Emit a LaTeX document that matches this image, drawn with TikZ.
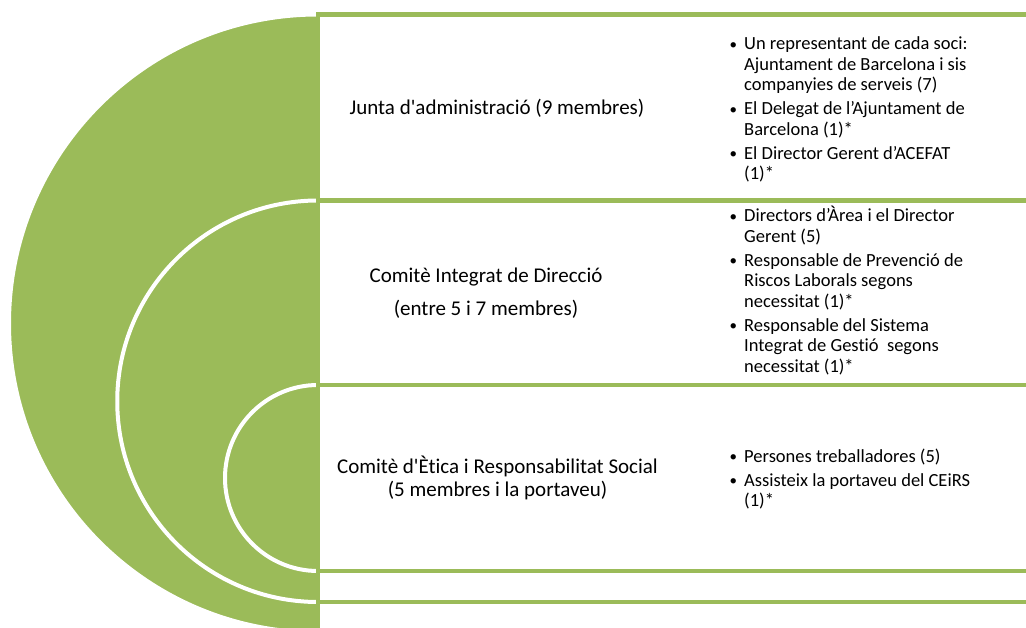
\documentclass[tikz,border=0pt]{standalone}
\usepackage{fontspec}
\setmainfont{Carlito}[Ligatures={NoCommon}]
\definecolor{grn}{HTML}{9BBB59}
\newcommand\bl{\hbox to 15pt{\hskip0.5pt{\fontsize{15}{15}\selectfont\raisebox{0.6pt}{\textbullet}}\hfil}}
\newcommand\ind{\hbox to 15pt{}}
\newcommand\bi[1]{\hbox{\bl #1}}
\newcommand\bc[1]{\hbox{\ind #1}}
\newcommand\igap{\vskip3.5pt}
\newcommand\blist[1]{\vtop{\baselineskip=20.5pt\lineskiplimit=-30pt #1}}
\newcommand\clab[2]{\vtop{\baselineskip=#1\lineskiplimit=-30pt\halign{\hfil##\hfil\cr#2\crcr}}}
\begin{document}
\begin{tikzpicture}[x=1pt,y=-1pt,
  disk/.style={fill=grn,draw=white,line width=4pt},
  panel/.style={fill=white,draw=grn,line width=4.5pt},
  lab/.style={font=\fontsize{21}{25}\selectfont,inner sep=0pt,anchor=base},
  items/.style={font=\fontsize{18.5}{20.5}\selectfont,inner sep=0pt,anchor=base west}]
\useasboundingbox (0,0) rectangle (1026,628);
\begin{scope}
\clip (0,0) rectangle (1026,628);
\fill[white] (0,0) rectangle (1026,628);
% half disks (right halves hidden by panels)
\filldraw[disk] (318,323.5) circle[radius=309];
\filldraw[disk] (318,401.25) circle[radius=200.75];
\filldraw[disk] (318,478) circle[radius=93];
% panels
\draw[panel] (318,14.5) rectangle (1040,632.5);
\draw[panel] (318,200.5) rectangle (1040,602);
\draw[panel] (318,385) rectangle (1040,571);
\end{scope}
% labels
\node[lab] (junta) at (497,115) {Junta d\textquotesingle administració (9 membres)};
\node[lab] (cid) at (486,283) {\clab{33pt}{Comitè Integrat de Direcció\cr(entre 5 i 7 membres)}};
\node[lab] (ceirs) at (497.5,473) {\clab{23pt}{Comitè d\textquotesingle Ètica i Responsabilitat Social\cr(5 membres i la portaveu)}};
% bullet lists
\node[items] (b1) at (729,50) {\blist{\bi{Un representant de cada soci:}\bc{Ajuntament de Barcelona i sis}\bc{companyies de serveis (7)}\igap
\bi{El Delegat de l’Ajuntament de}\bc{Barcelona (1)*}\igap
\bi{El Director Gerent d’ACEFAT}\bc{(1)*}}};
\node[items] (b2) at (729,222) {\blist{\bi{Directors d’Àrea i el Director}\bc{Gerent (5)}\igap
\bi{Responsable de Prevenció de}\bc{Riscos Laborals segons}\bc{necessitat (1)*}\igap
\bi{Responsable del Sistema}\bc{Integrat de Gestió\ \ segons}\bc{necessitat (1)*}}};
\node[items] (b3) at (729,462) {\blist{\bi{Persones treballadores (5)}\igap
\bi{Assisteix la portaveu del CEiRS}\bc{(1)*}}};
\end{tikzpicture}
\end{document}
